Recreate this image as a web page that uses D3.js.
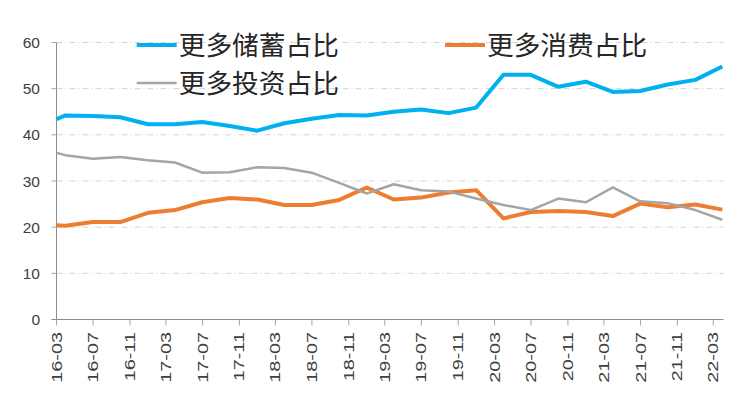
<!DOCTYPE html>
<html>
<head>
<meta charset="utf-8">
<script src="https://cdn.jsdelivr.net/npm/d3@7"></script>
<style>
  body { margin: 0; background: #fff; }
  svg { display: block; }
</style>
</head>
<body>
<svg id="chart"></svg>
<script>
// quarterly survey points (quarter end); the first one sits left of the axis and gets clipped
const dates = [
  "2015-12-31",
  "2016-03-31", "2016-06-30", "2016-09-30", "2016-12-31",
  "2017-03-31", "2017-06-30", "2017-09-30", "2017-12-31",
  "2018-03-31", "2018-06-30", "2018-09-30", "2018-12-31",
  "2019-03-31", "2019-06-30", "2019-09-30", "2019-12-31",
  "2020-03-31", "2020-06-30", "2020-09-30", "2020-12-31",
  "2021-03-31", "2021-06-30", "2021-09-30", "2021-12-31",
  "2022-03-31"
];
const savings = [41.8, 44.2, 44.1, 43.8, 42.3, 42.3, 42.8, 41.9, 40.9, 42.5, 43.5, 44.3, 44.2,
  45.0, 45.5, 44.7, 45.9, 53.0, 53.0, 50.4, 51.5, 49.3, 49.5, 50.9, 51.9, 54.8];
const consumption = [20.6, 20.3, 21.1, 21.1, 23.1, 23.7, 25.4, 26.3, 26.0, 24.8, 24.8, 25.9, 28.6,
  26.0, 26.4, 27.5, 28.0, 21.9, 23.3, 23.5, 23.3, 22.4, 25.1, 24.3, 24.9, 23.8];
const investment = [37.1, 35.6, 34.8, 35.2, 34.5, 34.0, 31.8, 31.9, 33.0, 32.8, 31.8, 29.6, 27.3,
  29.3, 28.0, 27.7, 26.2, 24.8, 23.7, 26.2, 25.4, 28.6, 25.6, 25.2, 23.7, 21.6];

const seriesNames = ["更多储蓄占比", "更多消费占比", "更多投资占比"];
const xTickLabels = ["16-03", "16-07", "16-11", "17-03", "17-07", "17-11", "18-03", "18-07", "18-11",
  "19-03", "19-07", "19-11", "20-03", "20-07", "20-11", "21-03", "21-07", "21-11", "22-03"];
const yTicks = [0, 10, 20, 30, 40, 50, 60];

const width = 729, height = 393;
const plot = { left: 56.5, right: 723.5, top: 42.5, bottom: 319.5 };

const svg = d3.select("#chart")
  .attr("width", width)
  .attr("height", height);

const parseTick = s => new Date(2000 + +s.slice(0, 2), +s.slice(3) - 1, 1);
const tickDates = xTickLabels.map(parseTick);

const x = d3.scaleTime()
  .domain([tickDates[0], tickDates[tickDates.length - 1]])
  .range([plot.left, 713.3]);

const y = d3.scaleLinear()
  .domain([0, 60])
  .range([plot.bottom, plot.top]);

// grid
svg.append("g")
  .selectAll("line")
  .data(yTicks.filter(d => d > 0))
  .join("line")
  .attr("x1", plot.left).attr("x2", plot.right)
  .attr("y1", d => y(d)).attr("y2", d => y(d))
  .attr("stroke", "#d4d4d4")
  .attr("stroke-width", 1)
  .attr("stroke-dasharray", "6 3 1 3");

// y axis
const yAxis = svg.append("g");
yAxis.append("line")
  .attr("x1", plot.left).attr("x2", plot.left)
  .attr("y1", plot.top).attr("y2", plot.bottom)
  .attr("stroke", "#8c8c8c");
yAxis.selectAll(".tick")
  .data(yTicks)
  .join("line")
  .attr("class", "tick")
  .attr("x1", plot.left - 5).attr("x2", plot.left)
  .attr("y1", d => y(d)).attr("y2", d => y(d))
  .attr("stroke", "#a6a6a6");
yAxis.selectAll("text")
  .data(yTicks)
  .join("text")
  .attr("x", 40)
  .attr("y", d => y(d))
  .attr("dy", "0.36em")
  .attr("text-anchor", "end")
  .style("font", "15.5px 'Liberation Sans', Arial, sans-serif")
  .style("fill", "#404040")
  .text(d => d);

// x axis
const xAxis = svg.append("g");
xAxis.append("line")
  .attr("x1", plot.left - 5).attr("x2", plot.right)
  .attr("y1", plot.bottom).attr("y2", plot.bottom)
  .attr("stroke", "#8c8c8c");
xAxis.selectAll(".tick")
  .data(tickDates)
  .join("line")
  .attr("class", "tick")
  .attr("x1", d => x(d)).attr("x2", d => x(d))
  .attr("y1", plot.bottom).attr("y2", plot.bottom + 6)
  .attr("stroke", "#a6a6a6");
xAxis.selectAll("text")
  .data(tickDates)
  .join("text")
  .attr("transform", d => `translate(${x(d)},332) rotate(-90) scale(1.42,1)`)
  .attr("dy", "0.36em")
  .attr("text-anchor", "end")
  .style("font", "14px 'Liberation Sans', Arial, sans-serif")
  .style("fill", "#404040")
  .text((d, i) => xTickLabels[i]);

// lines
svg.append("clipPath").attr("id", "plotclip")
  .append("rect")
  .attr("x", plot.left).attr("y", 0)
  .attr("width", plot.right - plot.left + 1).attr("height", height);

const parsed = dates.map(d => d3.timeParse("%Y-%m-%d")(d));
const series = [
  { name: seriesNames[0], values: savings, color: "#00b0f0", w: 4 },
  { name: seriesNames[1], values: consumption, color: "#ed7d31", w: 4 },
  { name: seriesNames[2], values: investment, color: "#a5a5a5", w: 2.5 }
];

const line = d3.line()
  .x((d, i) => x(parsed[i]))
  .y(d => y(d));

svg.append("g")
  .attr("clip-path", "url(#plotclip)")
  .selectAll("path")
  .data(series)
  .join("path")
  .attr("d", d => line(d.values))
  .attr("fill", "none")
  .attr("stroke", d => d.color)
  .attr("stroke-width", d => d.w)
  .attr("stroke-linejoin", "round");

// legend
const legendPos = [
  { x: 136.7, y: 45 },
  { x: 445, y: 45 },
  { x: 136.7, y: 83 }
];
const legend = svg.append("g")
  .selectAll("g")
  .data(series)
  .join("g")
  .attr("transform", (d, i) => `translate(${legendPos[i].x},${legendPos[i].y})`);
legend.append("line")
  .attr("x1", 0).attr("x2", 40)
  .attr("stroke", d => d.color)
  .attr("stroke-width", d => d.w);
legend.append("text")
  .attr("x", 42)
  .attr("y", 10)
  .style("font", "26.7px 'Noto Sans CJK SC', sans-serif")
  .style("fill", "#262626")
  .text(d => d.name);
</script>
</body>
</html>
